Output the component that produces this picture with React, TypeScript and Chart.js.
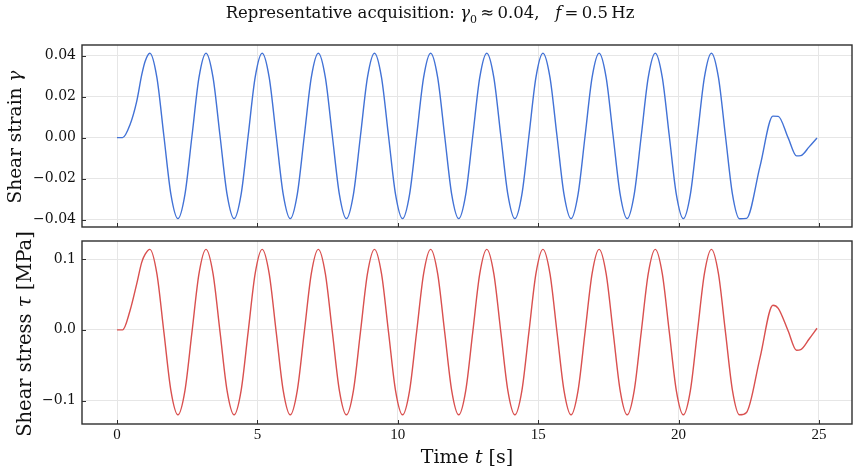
import React, { useEffect, useRef } from "react";
import { Chart, registerables } from "chart.js";

Chart.register(...registerables);

// Sample times [s] shared by both recorded channels
const timeS = [
  0, 0.2, 0.46, 0.7, 0.88, 1.0,
  1.17, 1.42, 1.67, 1.92, 2.17, 2.42, 2.67, 2.92,
  3.17, 3.42, 3.67, 3.92, 4.17, 4.42, 4.67, 4.92,
  5.17, 5.42, 5.67, 5.92, 6.17, 6.42, 6.67, 6.92,
  7.17, 7.42, 7.67, 7.92, 8.17, 8.42, 8.67, 8.92,
  9.17, 9.42, 9.67, 9.92, 10.17, 10.42, 10.67, 10.92,
  11.17, 11.42, 11.67, 11.92, 12.17, 12.42, 12.67, 12.92,
  13.17, 13.42, 13.67, 13.92, 14.17, 14.42, 14.67, 14.92,
  15.17, 15.42, 15.67, 15.92, 16.17, 16.42, 16.67, 16.92,
  17.17, 17.42, 17.67, 17.92, 18.17, 18.42, 18.67, 18.92,
  19.17, 19.42, 19.67, 19.92, 20.17, 20.42, 20.67, 20.92,
  21.17, 21.42, 21.67, 21.92, 22.17, 22.42, 22.9, 23.36, 23.55, 23.9, 24.2, 24.35, 24.65, 24.93,
];

// Shear strain gamma [-]
const strainValues = [
  0, 0, 0.0062, 0.0176, 0.0306, 0.0372,
  0.0412, 0.0294, 0.0008, -0.0277, -0.0395, -0.0277, 0.0008, 0.0294,
  0.0412, 0.0294, 0.0008, -0.0277, -0.0395, -0.0277, 0.0008, 0.0294,
  0.0412, 0.0294, 0.0008, -0.0277, -0.0395, -0.0277, 0.0008, 0.0294,
  0.0412, 0.0294, 0.0008, -0.0277, -0.0395, -0.0277, 0.0008, 0.0294,
  0.0412, 0.0294, 0.0008, -0.0277, -0.0395, -0.0277, 0.0008, 0.0294,
  0.0412, 0.0294, 0.0008, -0.0277, -0.0395, -0.0277, 0.0008, 0.0294,
  0.0412, 0.0294, 0.0008, -0.0277, -0.0395, -0.0277, 0.0008, 0.0294,
  0.0412, 0.0294, 0.0008, -0.0277, -0.0395, -0.0277, 0.0008, 0.0294,
  0.0412, 0.0294, 0.0008, -0.0277, -0.0395, -0.0277, 0.0008, 0.0294,
  0.0412, 0.0294, 0.0008, -0.0277, -0.0395, -0.0277, 0.0008, 0.0294,
  0.0412, 0.0294, 0.0008, -0.0277, -0.0396, -0.0394, -0.014, 0.0105, 0.0104, 0.0, -0.0089, -0.0088, -0.0045, -0.0002,
];

// Shear stress tau [MPa]
const stressValues = [
  0, 0, 0.0266, 0.0646, 0.0953, 0.1065,
  0.1137, 0.0794, -0.0032, -0.0858, -0.12, -0.0858, -0.0032, 0.0794,
  0.1137, 0.0794, -0.0032, -0.0858, -0.12, -0.0858, -0.0032, 0.0794,
  0.1137, 0.0794, -0.0032, -0.0858, -0.12, -0.0858, -0.0032, 0.0794,
  0.1137, 0.0794, -0.0032, -0.0858, -0.12, -0.0858, -0.0032, 0.0794,
  0.1137, 0.0794, -0.0032, -0.0858, -0.12, -0.0858, -0.0032, 0.0794,
  0.1137, 0.0794, -0.0032, -0.0858, -0.12, -0.0858, -0.0032, 0.0794,
  0.1137, 0.0794, -0.0032, -0.0858, -0.12, -0.0858, -0.0032, 0.0794,
  0.1137, 0.0794, -0.0032, -0.0858, -0.12, -0.0858, -0.0032, 0.0794,
  0.1137, 0.0794, -0.0032, -0.0858, -0.12, -0.0858, -0.0032, 0.0794,
  0.1137, 0.0794, -0.0032, -0.0858, -0.12, -0.0858, -0.0032, 0.0794,
  0.1137, 0.0794, -0.0032, -0.0858, -0.12, -0.1166, -0.0395, 0.0348, 0.0304, -0.0012, -0.0288, -0.028, -0.013, 0.0022,
];

const timeTicks = [0, 5, 10, 15, 20, 25];
const strainTicks = [-0.04, -0.02, 0, 0.02, 0.04];
const stressTicks = [-0.1, 0, 0.1];

const TIME_MIN = -1.2465;
const TIME_MAX = 26.1765;

const SERIF = "'DejaVu Serif', serif";
const GRID = "#e6e6e6";
const SPINE = "#2e2e2e";

const fmt = (v: number, digits: number) => {
  const s = Math.abs(v) < 1e-12 ? (0).toFixed(digits) : v.toFixed(digits);
  return s.replace("-", "\u2212");
};

// Box around the plotting area plus short inward tick marks (left & bottom)
const framePlugin = {
  id: "frame",
  afterDraw(chart: any) {
    const { ctx, chartArea: a, scales } = chart;
    ctx.save();
    ctx.strokeStyle = SPINE;
    ctx.lineWidth = 1.4;
    ctx.strokeRect(a.left, a.top, a.right - a.left, a.bottom - a.top);
    ctx.beginPath();
    scales.x.ticks.forEach((t: any) => {
      const px = Math.round(scales.x.getPixelForValue(t.value)) + 0.5;
      ctx.moveTo(px, a.bottom);
      ctx.lineTo(px, a.bottom - 4);
    });
    scales.y.ticks.forEach((t: any) => {
      const py = Math.round(scales.y.getPixelForValue(t.value)) + 0.5;
      ctx.moveTo(a.left, py);
      ctx.lineTo(a.left + 4, py);
    });
    ctx.lineWidth = 1;
    ctx.stroke();
    ctx.restore();
  },
};

function makeConfig(opts: {
  values: number[];
  color: string;
  yMin: number;
  yMax: number;
  yTicks: number[];
  digits: number;
  showX: boolean;
  padTop: number;
  xHeight: number;
}): any {
  return {
    type: "line",
    data: {
      datasets: [
        {
          data: timeS.map((t, i) => ({ x: t, y: opts.values[i] })),
          borderColor: opts.color,
          borderWidth: 1.4,
          pointRadius: 0,
          fill: false,
          cubicInterpolationMode: "monotone",
        },
      ],
    },
    options: {
      responsive: false,
      animation: false,
      events: [],
      layout: { padding: { top: opts.padTop, right: 7, left: 0, bottom: 0 } },
      plugins: { legend: { display: false }, tooltip: { enabled: false }, title: { display: false } },
      scales: {
        x: {
          type: "linear",
          min: TIME_MIN,
          max: TIME_MAX,
          afterBuildTicks: (s: any) => {
            s.ticks = timeTicks.map((v) => ({ value: v }));
          },
          afterFit: (s: any) => {
            s.height = opts.xHeight;
          },
          grid: { color: GRID, lineWidth: 1, drawTicks: false },
          border: { display: false },
          ticks: {
            display: opts.showX,
            padding: 2,
            color: "#111",
            font: { family: "'Liberation Serif', serif", size: 15 },
            maxRotation: 0,
            callback: (v: number) => String(v),
          },
        },
        y: {
          type: "linear",
          min: opts.yMin,
          max: opts.yMax,
          afterBuildTicks: (s: any) => {
            s.ticks = opts.yTicks.map((v) => ({ value: v }));
          },
          afterFit: (s: any) => {
            s.width = 82;
          },
          grid: { color: GRID, lineWidth: 1, drawTicks: false },
          border: { display: false },
          ticks: {
            padding: 6,
            color: "#111",
            font: { family: SERIF, size: 14 },
            callback: (v: number) => fmt(v, opts.digits),
          },
        },
      },
    },
    plugins: [framePlugin],
  };
}

export default function App() {
  const topRef = useRef<HTMLCanvasElement>(null);
  const botRef = useRef<HTMLCanvasElement>(null);

  useEffect(() => {
    const top = new Chart(
      topRef.current as HTMLCanvasElement,
      makeConfig({
        values: strainValues,
        color: "#4272d6",
        yMin: -0.0436,
        yMax: 0.0452,
        yTicks: strainTicks,
        digits: 2,
        showX: false,
        padTop: 45,
        xHeight: 15,
      })
    );
    const bot = new Chart(
      botRef.current as HTMLCanvasElement,
      makeConfig({
        values: stressValues,
        color: "#d9504f",
        yMin: -0.133,
        yMax: 0.1255,
        yTicks: stressTicks,
        digits: 1,
        showX: true,
        padTop: 15,
        xHeight: 47,
      })
    );
    return () => {
      top.destroy();
      bot.destroy();
    };
  }, []);

  const label: React.CSSProperties = {
    position: "absolute",
    fontFamily: SERIF,
    color: "#111",
    whiteSpace: "nowrap",
    lineHeight: 1,
  };

  return (
    <div
      style={{
        position: "fixed",
        left: 0,
        top: 0,
        width: 859,
        height: 471,
        background: "#fff",
        overflow: "hidden",
      }}
    >
      <canvas ref={topRef} width={859} height={242} style={{ position: "absolute", left: 0, top: 0, display: "block" }} />
      <canvas ref={botRef} width={859} height={245} style={{ position: "absolute", left: 0, top: 226, display: "block" }} />

      <div style={{ ...label, left: 430, top: 15, fontSize: 16.5, transform: "translate(-50%, -50%)" }}>
        Representative acquisition: <i>γ</i>
        <sub style={{ fontSize: 11 }}>0</sub>
        {"\u2009≈\u20090.04,\u00a0\u00a0\u00a0"}
        <i>f</i>
        {"\u2009=\u20090.5\u2009Hz"}
      </div>

      <div
        style={{
          ...label,
          left: 15,
          top: 137,
          fontSize: 18.5,
          transform: "translate(-50%, -50%) rotate(-90deg)",
        }}
      >
        Shear strain <i>γ</i>
      </div>

      <div
        style={{
          ...label,
          left: 25,
          top: 334,
          fontSize: 19.5,
          transform: "translate(-50%, -50%) rotate(-90deg)",
        }}
      >
        Shear stress <i>τ</i> [MPa]
      </div>

      <div style={{ ...label, left: 467, top: 456, fontSize: 19, transform: "translate(-50%, -50%)" }}>
        Time <i>t</i> [s]
      </div>
    </div>
  );
}
